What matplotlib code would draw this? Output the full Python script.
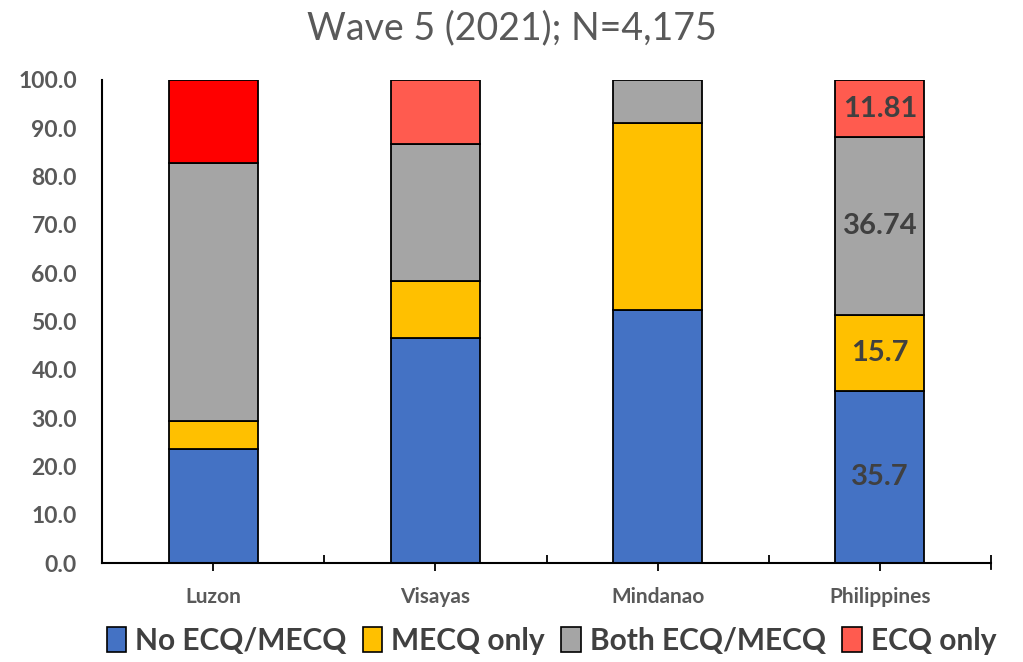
import matplotlib
matplotlib.use("Agg")
import matplotlib.pyplot as plt
import numpy as np
from matplotlib.patches import Patch
from matplotlib.ticker import FixedLocator, NullFormatter

plt.rcParams["font.family"] = ["Lato", "DejaVu Sans"]

TITLE = "Wave 5 (2021); N=4,175"
REGIONS = ["Luzon", "Visayas", "Mindanao", "Philippines"]
SERIES = ["No ECQ/MECQ", "MECQ only", "Both ECQ/MECQ", "ECQ only"]

no_ecq_mecq = [23.6, 46.6, 52.4, 35.7]
mecq_only = [5.8, 11.8, 38.7, 15.7]
both_ecq_mecq = [53.4, 28.3, 8.9, 36.74]
ecq_only = [17.2, 13.3, 0.0, 11.81]

# only the national bar carries value labels
label_region = "Philippines"
label_texts = ["35.7", "15.7", "36.74", "11.81"]

COLORS = ["#4472C4", "#FFC000", "#A5A5A5", "#FF5B4F"]
LUZON_RED = "#FF0000"
AXIS_GREY = "#595959"
LABEL_DARK = "#404040"

fig = plt.figure(figsize=(10.23, 6.62), dpi=100, facecolor="white")
ax = fig.add_axes([102 / 1023, 99 / 662, 889 / 1023, 483 / 662])

x = np.arange(len(REGIONS))
values = [no_ecq_mecq, mecq_only, both_ecq_mecq, ecq_only]
bottom = np.zeros(len(REGIONS))
for s_idx, (vals, color) in enumerate(zip(values, COLORS)):
    vals = np.array(vals, dtype=float)
    colors = [color] * len(REGIONS)
    if s_idx == 3:
        colors[0] = LUZON_RED
    for i in range(len(REGIONS)):
        if vals[i] <= 0:
            continue
        ax.bar(x[i], vals[i], bottom=bottom[i], width=0.4, color=colors[i],
               edgecolor="black", linewidth=1.3, zorder=2)
        if REGIONS[i] == label_region:
            ax.text(x[i], bottom[i] + vals[i] / 2, label_texts[s_idx],
                    ha="center", va="center", fontsize=21, fontweight="bold",
                    color=LABEL_DARK, zorder=3)
    bottom += vals

ax.set_xlim(-0.5, len(REGIONS) - 0.5)
ax.set_ylim(0, 100)
ax.set_yticks(np.arange(0, 101, 10))
ax.set_yticklabels([f"{v:.1f}" for v in np.arange(0, 101, 10)],
                   fontsize=16.5, fontweight="bold", color=AXIS_GREY)
ax.tick_params(axis="y", length=0, pad=18)

ax.set_xticks(x)
ax.set_xticklabels(REGIONS, fontsize=15, fontweight="bold", color=AXIS_GREY)
ax.tick_params(axis="x", which="major", direction="out", length=6,
               width=1.3, pad=11)
ax.xaxis.set_minor_locator(FixedLocator([0.5, 1.5, 2.5, 3.5]))
ax.xaxis.set_minor_formatter(NullFormatter())
ax.tick_params(axis="x", which="minor", direction="in", length=6, width=1.3)

for side in ["top", "right"]:
    ax.spines[side].set_visible(False)
for side in ["left", "bottom"]:
    ax.spines[side].set_linewidth(1.5)
    ax.spines[side].set_color("black")
ax.plot([1, 1], [-0.012, 0.0], transform=ax.transAxes, color="black",
        linewidth=1.3, clip_on=False)

fig.text(0.5, 0.957, TITLE, ha="center", va="center", fontsize=27,
         color=AXIS_GREY)

handles = [Patch(facecolor=c, edgecolor="black", linewidth=1.2) for c in COLORS]
fig.legend(handles, SERIES, loc="center", bbox_to_anchor=(0.539, 0.032),
           ncol=4, frameon=False, handlelength=0.65, handleheight=0.9,
           handletextpad=0.3, columnspacing=0.55,
           prop={"size": 21.5, "weight": "bold"}, labelcolor=LABEL_DARK)

fig.savefig("out.png", dpi=100, facecolor="white")
